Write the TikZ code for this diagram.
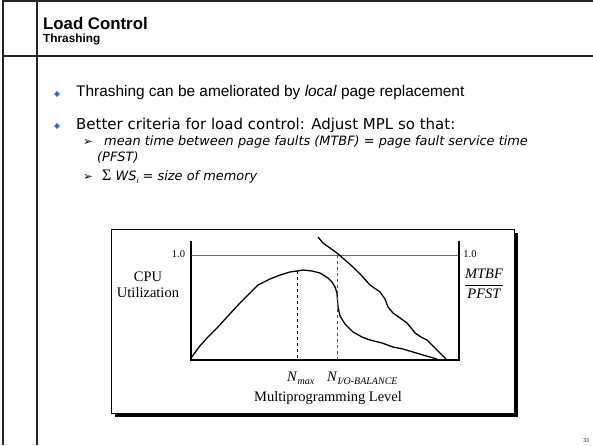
\documentclass[tikz,border=0pt]{standalone}
\usepackage{fontspec}
\setmainfont{Liberation Sans}
\newfontfamily\comicfont{DejaVu Sans}
\newfontfamily\timesfont{Liberation Serif}
\usetikzlibrary{shapes.geometric}
\definecolor{bulletblue}{HTML}{1F6FD0}
\newcommand{\Nsub}[1]{\textit{N}\raisebox{-0.45ex}{\fontsize{10}{10}\selectfont\textit{#1}}}

\begin{document}
\begin{tikzpicture}[x=1pt,y=-1pt,
  frameline/.style={line width=1.2pt,black!85},
  diam/.style={diamond,fill=bulletblue,inner sep=0pt,minimum size=6pt},
  axisline/.style={line width=2.6pt},
  curve/.style={line width=1.3pt,line join=round},
  lbl/.style={inner sep=0pt,font=\timesfont\fontsize{14.5}{16}\selectfont}]
\useasboundingbox[fill=white] (0,0) rectangle (593,445);
% slide frame
\draw[frameline] (3,0) -- (3,445);
\draw[frameline] (37,0) -- (37,445);
\draw[frameline] (3,1) -- (593,1);
\draw[frameline] (3,56) -- (593,56);
\node (title) [anchor=base west,inner sep=0pt,font=\bfseries\fontsize{16.8}{18}\selectfont] at (43,29) {Load Control};
\node (sub) [anchor=base west,inner sep=0pt,font=\bfseries\fontsize{11.8}{13}\selectfont] at (43,42) {Thrashing};
%
\node (b1) [diam] at (57,94) {};
\node (t1) [anchor=west,inner sep=0pt,font=\fontsize{15.4}{17}\selectfont] at (76,93) {Thrashing can be ameliorated by \textit{local} page replacement};
\node (b2) [diam] at (57,126) {};
\node (t2) [anchor=west,inner sep=0pt,font=\comicfont\fontsize{15}{17}\selectfont] at (76,125) {Better criteria for load control: Adjust MPL so that:};
\node (a1) [inner sep=0pt,font=\comicfont\fontsize{11.5}{12}\selectfont] at (88,142) {➢};
\node (t3) [anchor=west,inner sep=0pt,font=\comicfont\itshape\fontsize{12.9}{14}\selectfont] at (104,142) {mean time between page faults (MTBF) = page fault service time};
\node (t4) [anchor=west,inner sep=0pt,font=\comicfont\itshape\fontsize{12.9}{14}\selectfont] at (97,157) {(PFST)};
\node (a2) [inner sep=0pt,font=\comicfont\fontsize{11.5}{12}\selectfont] at (88,177) {➢};
\node (t5) [anchor=west,inner sep=0pt,font=\comicfont\itshape\fontsize{12.9}{14}\selectfont] at (102,177) {{\timesfont\upshape\fontsize{16}{16}\selectfont Σ} WS\raisebox{-0.4ex}{\fontsize{7.5}{7.5}\selectfont\textit{i}} = size of memory};
%
% chart box with shadow
\fill[black] (115,233) rectangle (518,417);
\draw[fill=white,line width=0.8pt] (111,229) rectangle (514,413);
\coordinate (o) at (191,360);
\coordinate (ltop) at (191,241);
\coordinate (r) at (459,360);
\coordinate (rtop) at (459,241);
\draw[black!60,line width=0.9pt] (191,255) -- (459,255);
\draw[axisline] (ltop) -- (o) -- (r) -- (rtop);
\node (oneL) [inner sep=0pt,font=\timesfont\fontsize{10.5}{11}\selectfont] at (178.5,254) {1.0};
\node (oneR) [inner sep=0pt,font=\timesfont\fontsize{10.5}{11}\selectfont] at (470,254) {1.0};
\node (cpu) [lbl,align=center] at (148,285) {CPU\\Utilization};
\node (ratio) [inner sep=0pt,font=\timesfont\fontsize{14.5}{16}\selectfont] at (484,284) {$\displaystyle\frac{\textit{MTBF}}{\textit{PFST}}$};
%
% curves
\draw[curve] (191,358) -- (199,347) -- (207,338) -- (217,328) -- (227,317) -- (240,303)
  -- (250,293) -- (258,285) -- (270,279) -- (280,275) -- (290,272) -- (297,271)
  -- (303,270) -- (312,271) -- (320,273) -- (328,278) -- (332,282) -- (335,287)
  -- (337,293) -- (338,307) -- (340,316) -- (345,324) -- (353,332) -- (362,337)
  -- (370,340) -- (382,343) -- (393,347) -- (403,349) -- (413,352) -- (423,355)
  -- (430,357) -- (437,359);
\draw[curve] (318,237) -- (323,243) -- (330,248) -- (337,253) -- (345,260) -- (353,267)
  -- (362,276) -- (370,285) -- (380,292) -- (385,299) -- (388,307) -- (393,313)
  -- (400,318) -- (407,323) -- (412,329) -- (415,333) -- (421,337) -- (427,340)
  -- (432,345) -- (437,350) -- (442,355) -- (446,359);
%
\coordinate (pmax) at (297,271);
\coordinate (pbal) at (337,255);
\draw[dashed,line width=0.8pt] (pmax) -- (pmax |- o);
\draw[dashed,line width=0.8pt,black!70] (pbal) -- (pbal |- o);
%
\node (nmax) [lbl,anchor=base west] at (287,381) {\Nsub{max}};
\node (nbal) [lbl,anchor=base west] at (327,381) {\Nsub{I/O-BALANCE}};
\node (mpl) [lbl] at (328,398) {Multiprogramming Level};
\node (page) [inner sep=0pt,font=\timesfont\fontsize{6}{6}\selectfont] at (586,441) {33};
\end{tikzpicture}
\end{document}
